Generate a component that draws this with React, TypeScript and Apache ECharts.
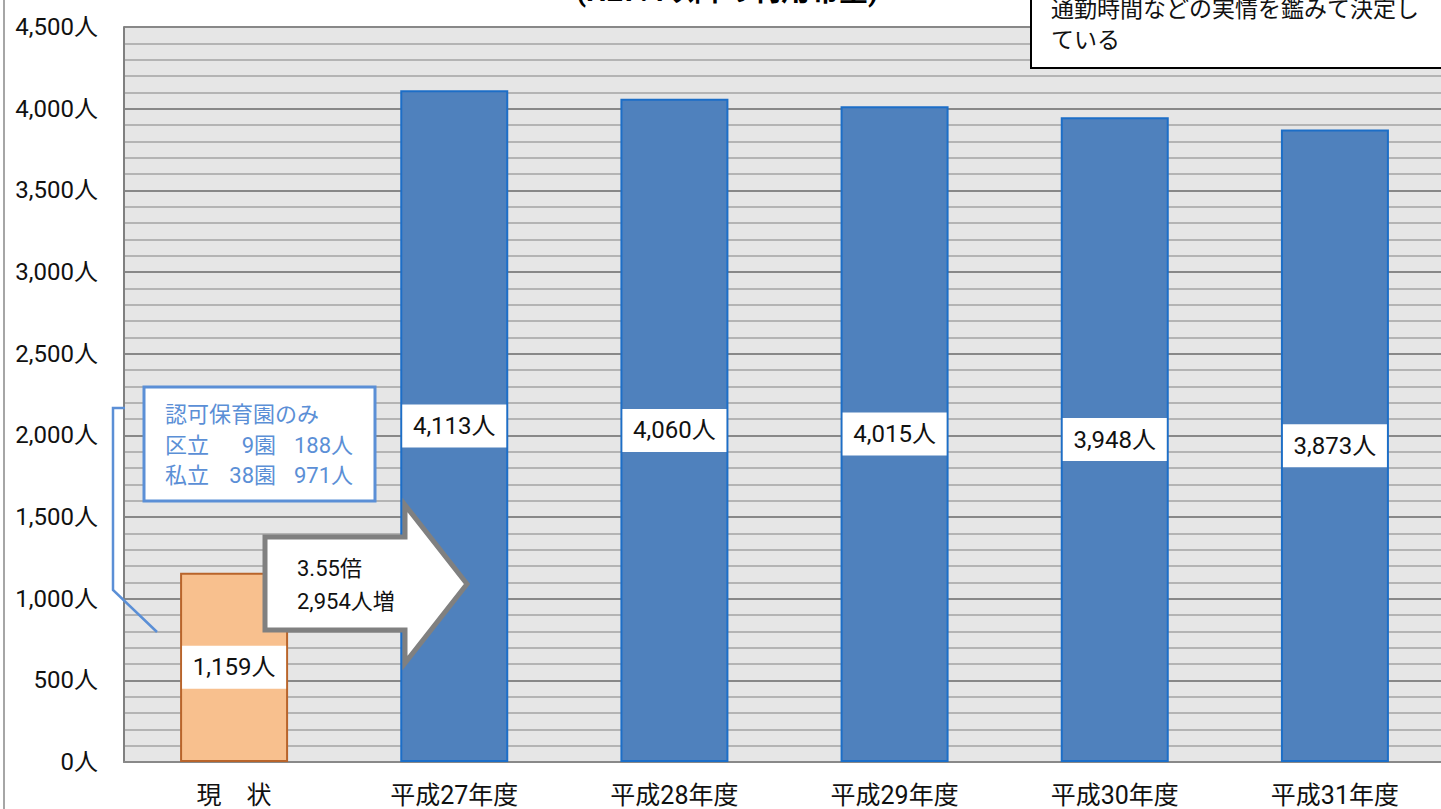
import React, { useEffect, useRef } from "react";
import * as echarts from "echarts";

const categories = ["現　状", "平成27年度", "平成28年度", "平成29年度", "平成30年度", "平成31年度"];
const values = [1159, 4113, 4060, 4015, 3948, 3873];
const titleText = "(H27.4以降の利用希望)";
const noteLines = ["通勤時間などの実情を鑑みて決定し", "ている"];
const boxHeader = "認可保育園のみ";
const boxRows = [
  ["区立", "9園", "188人"],
  ["私立", "38園", "971人"],
];
const arrowLines = ["3.55倍", "2,954人増"];

const FONT = "Roboto, 'Noto Sans CJK JP', 'Noto Sans', sans-serif";

export default function App() {
  const ref = useRef<HTMLDivElement>(null);
  useEffect(() => {
    document.body.style.margin = "0";
    document.body.style.overflow = "hidden";
    const chart = echarts.init(ref.current!, null, { renderer: "svg" });
    const fmt = (v: number) => v.toLocaleString("en-US") + "人";
    const blue = "#5b8fd6";
    chart.setOption({
      animation: false,
      textStyle: { fontFamily: FONT },
      grid: {
        left: 124,
        right: 0,
        top: 27,
        bottom: 47,
        show: true,
        backgroundColor: "#e6e6e6",
        borderWidth: 0,
      },
      xAxis: {
        type: "category",
        data: categories,
        axisTick: { show: false },
        axisLine: { lineStyle: { color: "#898989", width: 2 } },
        axisLabel: { color: "#111", fontSize: 25, lineHeight: 25, margin: 21, fontFamily: FONT },
      },
      yAxis: {
        type: "value",
        min: 0,
        max: 4500,
        interval: 500,
        axisLine: { show: true, lineStyle: { color: "#808080", width: 2 } },
        axisTick: { show: false },
        axisLabel: {
          color: "#111",
          fontSize: 24,
          margin: 26,
          fontFamily: FONT,
          formatter: (v: number) => fmt(v),
        },
        splitLine: { lineStyle: { color: "#888888", width: 2 } },
        minorTick: { show: false, splitNumber: 5 },
        minorSplitLine: { show: true, lineStyle: { color: "#b4b4b4", width: 2 } },
      },
      series: [
        {
          type: "bar",
          barWidth: 108,
          z: 3,
          data: values.map((v, i) => ({
            value: v,
            itemStyle:
              i === 0
                ? { color: "#f8c08e", borderColor: "#b8642b", borderWidth: 2 }
                : { color: "#4f81bd", borderColor: "#1c6ec7", borderWidth: 2 },
          })),
          label: {
            show: true,
            position: "inside",
            formatter: (p: any) => fmt(p.value),
            color: "#111",
            fontSize: 24,
            lineHeight: 25,
            fontFamily: FONT,
            backgroundColor: "#ffffff",
            width: 86,
            padding: [9, 9, 9, 9],
            overflow: "none",
          },
        },
      ],
      graphic: [
        {
          type: "line",
          shape: { x1: 4, y1: 0, x2: 4, y2: 809 },
          style: { stroke: "#a6a6a6", lineWidth: 2 },
          z: 10,
        },
        {
          type: "text",
          x: 727,
          y: -9,
          style: {
            text: titleText,
            fontSize: 29,
            fontWeight: "bold",
            fontFamily: FONT,
            fill: "#000",
            textAlign: "center",
            textVerticalAlign: "middle",
          },
          z: 10,
        },
        {
          type: "rect",
          shape: { x: 1031, y: -100, width: 500, height: 168 },
          style: { fill: "#ffffff", stroke: "#000000", lineWidth: 2 },
          z: 10,
        },
        ...noteLines.map((t, i) => ({
          type: "text",
          x: 1051,
          y: 9 + i * 31,
          style: {
            text: t,
            fontSize: 23,
            fontFamily: FONT,
            fill: "#111",
            textVerticalAlign: "middle",
          },
          z: 11,
        })),
        {
          type: "polyline",
          shape: { points: [[125, 408], [113, 408], [113, 590], [157, 632]] },
          style: { stroke: blue, lineWidth: 2.5, fill: null },
          z: 10,
        },
        {
          type: "rect",
          shape: { x: 144, y: 387, width: 231, height: 114 },
          style: { fill: "#ffffff", stroke: blue, lineWidth: 3 },
          z: 10,
        },
        {
          type: "text",
          x: 165,
          y: 414,
          style: { text: boxHeader, fontSize: 22, fontFamily: FONT, fill: blue, textVerticalAlign: "middle" },
          z: 11,
        },
        ...boxRows.flatMap((row, i) => [
          {
            type: "text",
            x: 165,
            y: 445 + i * 30,
            style: { text: row[0], fontSize: 22, fontFamily: FONT, fill: blue, textVerticalAlign: "middle" },
            z: 11,
          },
          {
            type: "text",
            x: 276,
            y: 445 + i * 30,
            style: { text: row[1], fontSize: 22, fontFamily: FONT, fill: blue, textAlign: "right", textVerticalAlign: "middle" },
            z: 11,
          },
          {
            type: "text",
            x: 353,
            y: 445 + i * 30,
            style: { text: row[2], fontSize: 22, fontFamily: FONT, fill: blue, textAlign: "right", textVerticalAlign: "middle" },
            z: 11,
          },
        ]),
        {
          type: "polygon",
          shape: {
            points: [[265, 537], [405, 537], [405, 505], [467, 584], [405, 663], [405, 630], [265, 630]],
          },
          style: { fill: "#ffffff", stroke: "#808080", lineWidth: 5, lineJoin: "miter" },
          z: 10,
        },
        ...arrowLines.map((t, i) => ({
          type: "text",
          x: 297,
          y: 568 + i * 33,
          style: { text: t, fontSize: 22, fontFamily: FONT, fill: "#111", textVerticalAlign: "middle" },
          z: 11,
        })),
      ],
    });
    return () => chart.dispose();
  }, []);
  return <div ref={ref} style={{ width: 1445, height: 809 }} />;
}
